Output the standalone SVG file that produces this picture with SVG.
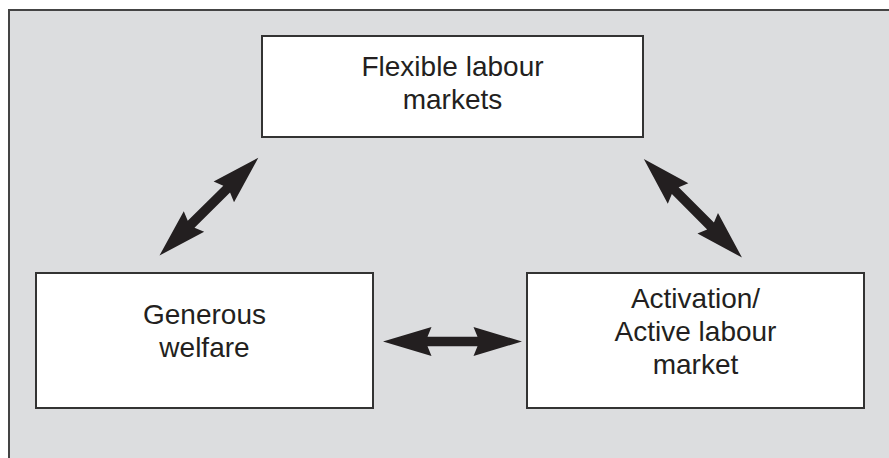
<svg xmlns="http://www.w3.org/2000/svg" width="889" height="458" viewBox="0 0 889 458">
<style>
.bg{fill:#dcdddf;stroke:#444;stroke-width:2}
.box{fill:#fff;stroke:#333;stroke-width:2}
.lbl{font-family:"Liberation Sans",Arial,sans-serif;font-size:28px;fill:#231f20;text-anchor:middle}
.arr{fill:#231f20}
</style>
<defs>
<path id="dblarrow" d="M-69.5,0 L-21,-14.5 L-25,-4.8 L25,-4.8 L21,-14.5 L69.5,0 L21,14.5 L25,4.8 L-25,4.8 L-21,14.5 Z"/>
</defs>
<rect class="bg" x="9" y="10" width="900" height="470"/>
<g id="node-flexible">
<rect class="box" x="262" y="36" width="381" height="101"/>
<text class="lbl" x="452.5" y="76">Flexible labour</text>
<text class="lbl" x="452.5" y="109">markets</text>
</g>
<g id="node-generous">
<rect class="box" x="36" y="273" width="337" height="135"/>
<text class="lbl" x="204.5" y="324">Generous</text>
<text class="lbl" x="204.5" y="357">welfare</text>
</g>
<g id="node-activation">
<rect class="box" x="527" y="273" width="337" height="135"/>
<text class="lbl" x="695.5" y="308">Activation/</text>
<text class="lbl" x="695.5" y="341">Active labour</text>
<text class="lbl" x="695.5" y="374">market</text>
</g>
<g id="connectors" class="arr">
<use href="#dblarrow" transform="translate(452.5,341.5)"/>
<use href="#dblarrow" transform="translate(208.9,206.7) rotate(-44.7)"/>
<use href="#dblarrow" transform="translate(692.9,208.3) rotate(45.1)"/>
</g>
</svg>
